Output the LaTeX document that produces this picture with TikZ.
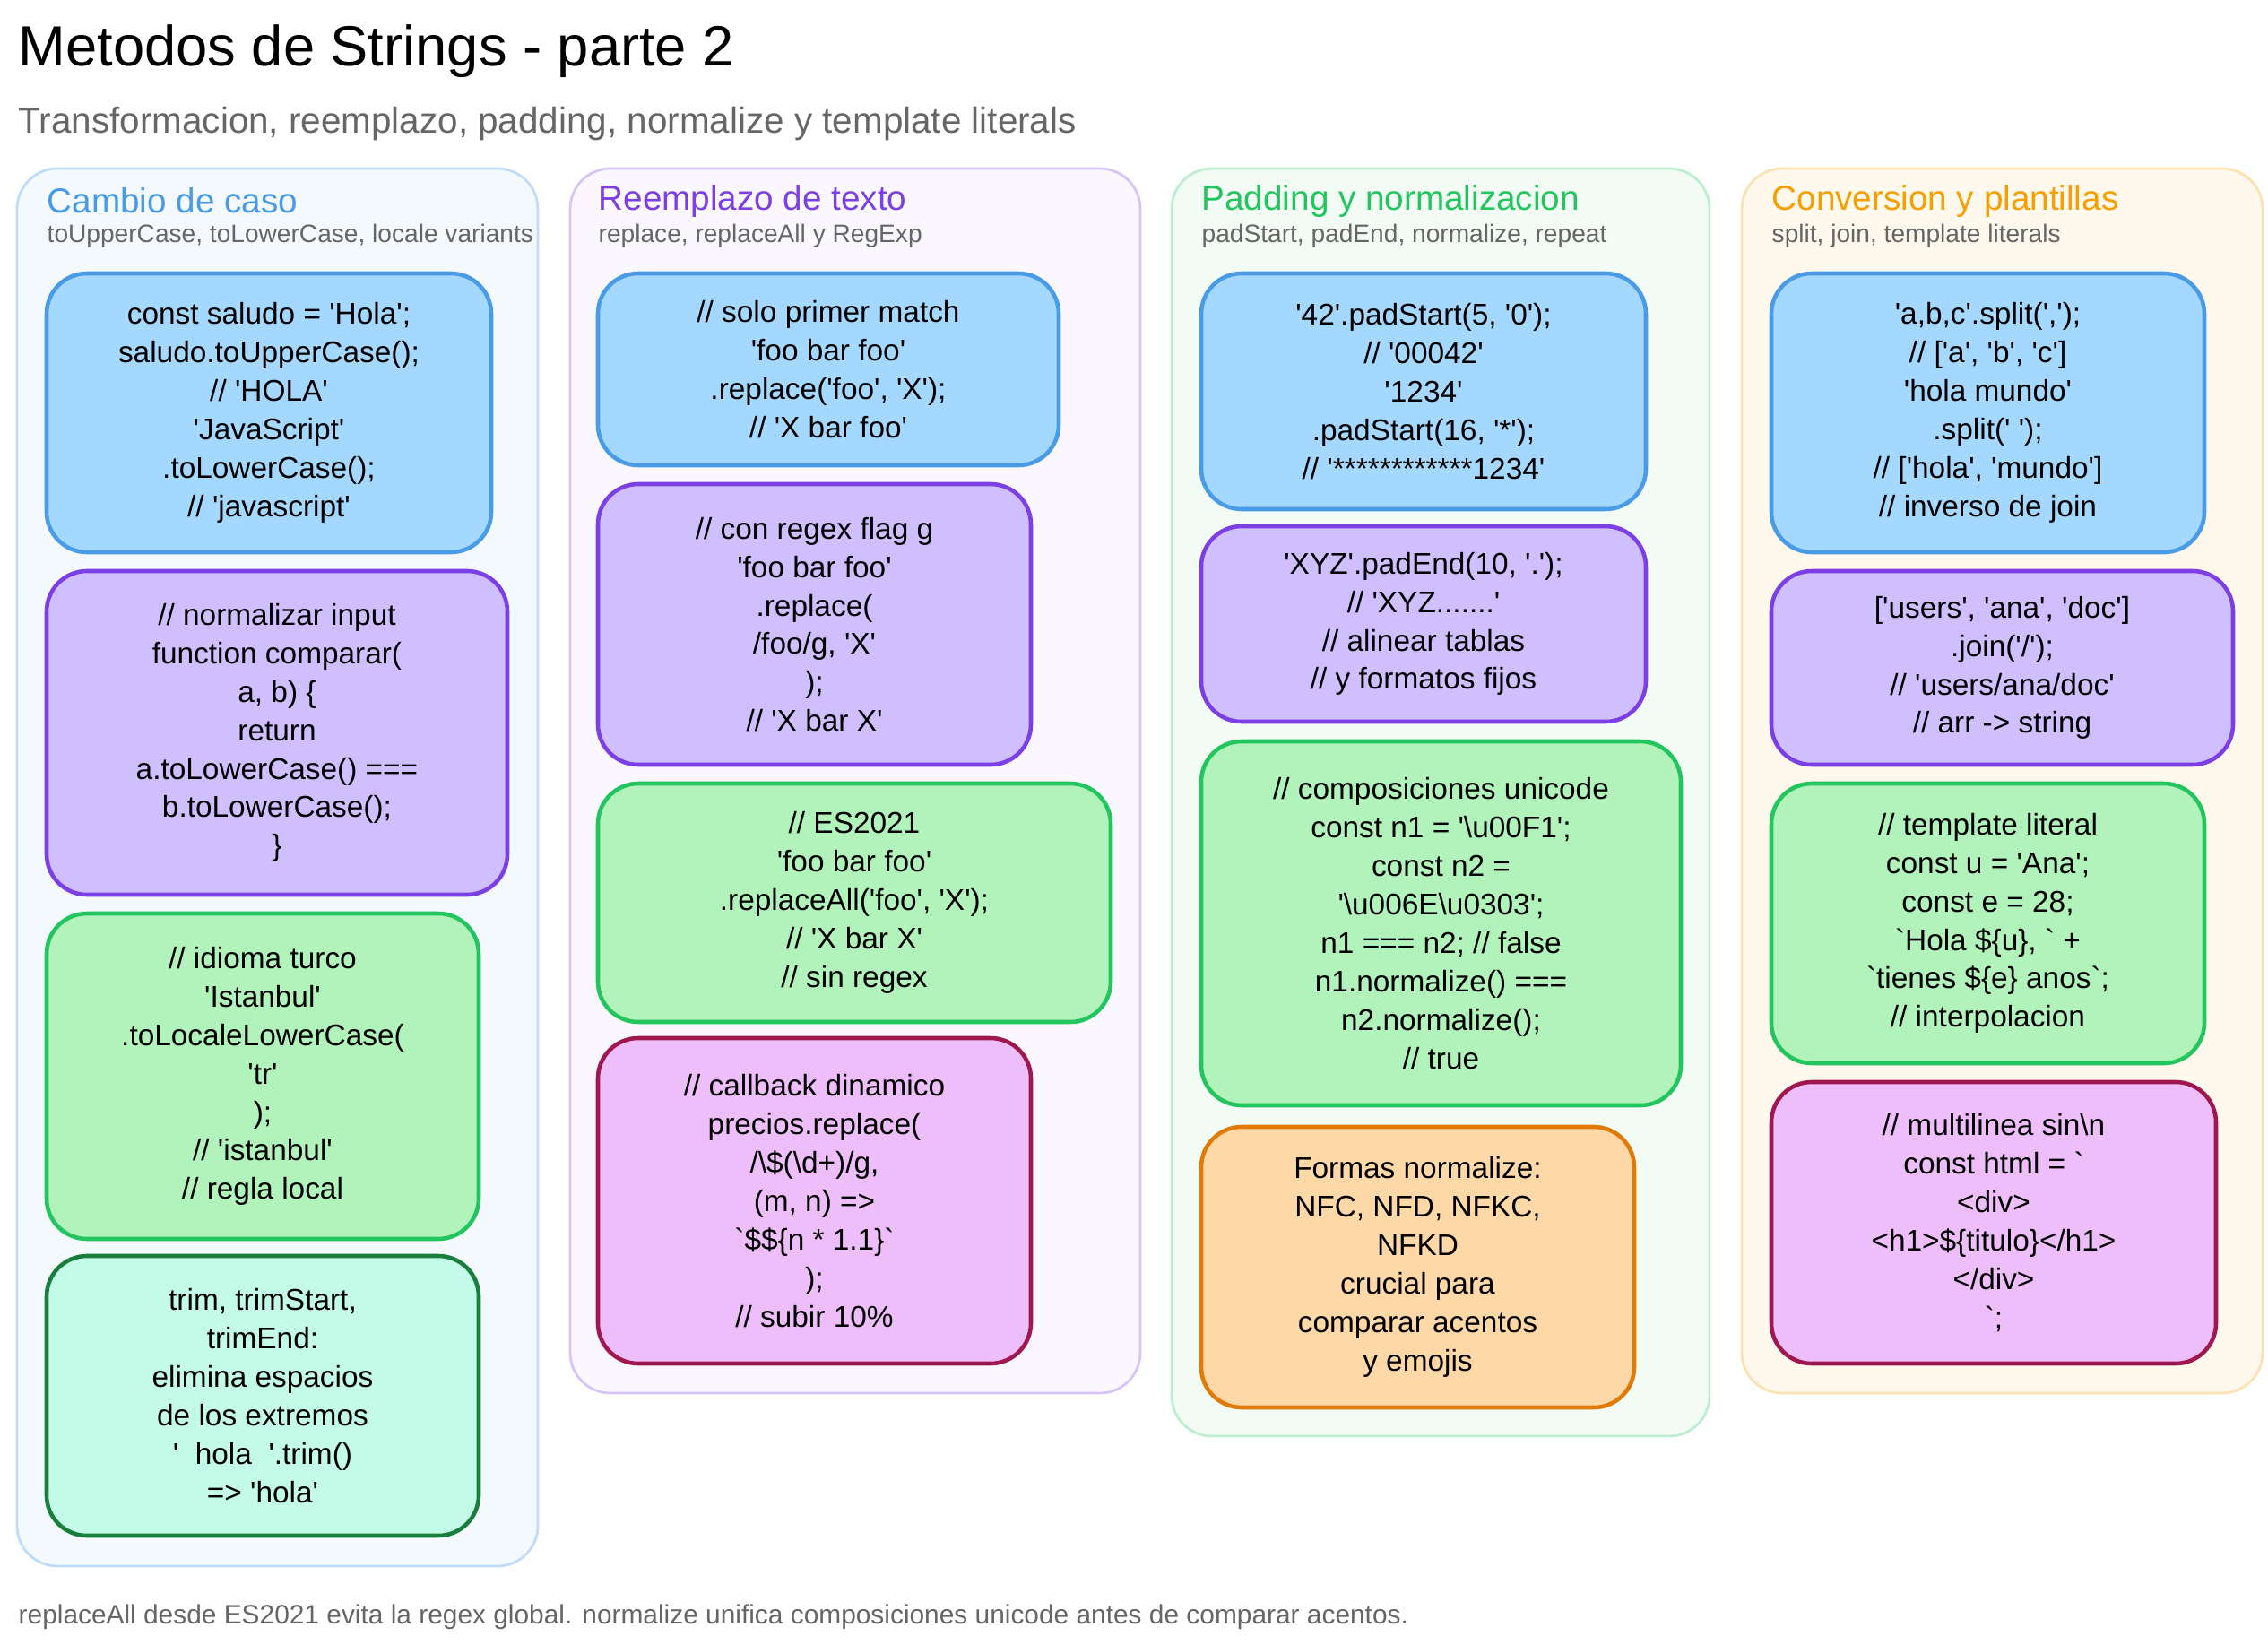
\documentclass[tikz,border=0pt]{standalone}
\usepackage{fontspec}
\setmainfont{Liberation Sans}
\newfontfamily\hand{Liberation Sans}
\usepackage{xcolor}
\usetikzlibrary{shapes,arrows}

\definecolor{bluefill}{HTML}{A5D8FF}
\definecolor{blueline}{HTML}{4A9BE6}
\definecolor{purfill}{HTML}{D0BFFF}
\definecolor{purline}{HTML}{7B3FE4}
\definecolor{grnfill}{HTML}{B2F2BB}
\definecolor{grnline}{HTML}{22C55E}
\definecolor{mintfill}{HTML}{C3FAE8}
\definecolor{mintline}{HTML}{1A7F3C}
\definecolor{pinkfill}{HTML}{EEBEFA}
\definecolor{pinkline}{HTML}{A0174F}
\definecolor{orafill}{HTML}{FFD8A8}
\definecolor{oraline}{HTML}{E07B0A}
\definecolor{hdrorange}{HTML}{F59F00}
\definecolor{txtgray}{HTML}{666666}

\begin{document}
\begin{tikzpicture}[x=1cm,y=1cm]
    \tikzstyle{column} = [draw, line width=0.8pt, rounded corners=0.45cm]
    \tikzstyle{card} = [rectangle, draw, line width=1.3pt, rounded corners=0.45cm,
        align=center, inner sep=0pt, font=\hand\fontsize{9.5}{12.2}\selectfont]
    \tikzstyle{hdr} = [anchor=west, inner sep=0pt, font=\fontsize{11}{13}\selectfont]
    \tikzstyle{sub} = [anchor=west, inner sep=0pt, text=txtgray, font=\fontsize{8}{10}\selectfont]

    \useasboundingbox (0,0) rectangle (25.30,-18.35);

    % title
    \node [anchor=west, inner sep=0pt, font=\fontsize{18}{21}\selectfont] (title) at (0.20,-0.57) {Metodos de Strings - parte 2};
    \node [anchor=west, inner sep=0pt, text=txtgray, font=\fontsize{11.5}{14}\selectfont] (subtitle) at (0.20,-1.38) {Transformacion, reemplazo, padding, normalize y template literals};

    % columns
    \draw [column, draw=blueline!35, fill=blueline!6] (0.19,-1.88) rectangle (6.00,-17.47);
    \draw [column, draw=purline!30, fill=purline!4] (6.36,-1.88) rectangle (12.72,-15.54);
    \draw [column, draw=grnline!30, fill=grnline!6] (13.07,-1.88) rectangle (19.07,-16.02);
    \draw [column, draw=hdrorange!30, fill=hdrorange!7] (19.43,-1.88) rectangle (25.24,-15.54);

    \node [hdr, text=blueline] (h1) at (0.52,-2.24) {Cambio de caso};
    \node [sub] (s1) at (0.52,-2.63) {toUpperCase, toLowerCase, locale variants};
    \node [hdr, text=purline] (h2) at (6.67,-2.24) {Reemplazo de texto};
    \node [sub] (s2) at (6.67,-2.63) {replace, replaceAll y RegExp};
    \node [hdr, text=grnline] (h3) at (13.40,-2.24) {Padding y normalizacion};
    \node [sub] (s3) at (13.40,-2.63) {padStart, padEnd, normalize, repeat};
    \node [hdr, text=hdrorange] (h4) at (19.76,-2.24) {Conversion y plantillas};
    \node [sub] (s4) at (19.76,-2.63) {split, join, template literals};

    % column 1
    \node [card, fill=bluefill, draw=blueline, minimum width=4.96cm, minimum height=3.11cm] (case1) at (3.00,-4.605)
        {const saludo = 'Hola';\\saludo.toUpperCase();\\// 'HOLA'\\'JavaScript'\\.toLowerCase();\\// 'javascript'};
    \node [card, fill=purfill, draw=purline, minimum width=5.14cm, minimum height=3.61cm] (case2) at (3.09,-8.175)
        {// normalizar input\\function comparar(\\a, b) \{\\return\\a.toLowerCase() ===\\b.toLowerCase();\\\}};
    \node [card, fill=grnfill, draw=grnline, minimum width=4.82cm, minimum height=3.63cm] (case3) at (2.93,-12.005)
        {// idioma turco\\'Istanbul'\\.toLocaleLowerCase(\\'tr'\\);\\// 'istanbul'\\// regla local};
    \node [card, fill=mintfill, draw=mintline, minimum width=4.82cm, minimum height=3.12cm] (case4) at (2.93,-15.57)
        {trim, trimStart,\\trimEnd:\\elimina espacios\\de los extremos\\'\ \ hola\ \ '.trim()\\=> 'hola'};

    % column 2
    \node [card, fill=bluefill, draw=blueline, minimum width=5.14cm, minimum height=2.14cm] (rep1) at (9.24,-4.12)
        {// solo primer match\\'foo bar foo'\\.replace('foo', 'X');\\// 'X bar foo'};
    \node [card, fill=purfill, draw=purline, minimum width=4.83cm, minimum height=3.13cm] (rep2) at (9.085,-6.965)
        {// con regex flag g\\'foo bar foo'\\.replace(\\/foo/g, 'X'\\);\\// 'X bar X'};
    \node [card, fill=grnfill, draw=grnline, minimum width=5.72cm, minimum height=2.66cm] (rep3) at (9.53,-10.07)
        {// ES2021\\'foo bar foo'\\.replaceAll('foo', 'X');\\// 'X bar X'\\// sin regex};
    \node [card, fill=pinkfill, draw=pinkline, minimum width=4.83cm, minimum height=3.63cm] (rep4) at (9.085,-13.395)
        {// callback dinamico\\precios.replace(\\/\textbackslash\$(\textbackslash d+)/g,\\(m, n) =>\\\textasciigrave\$\$\{n * 1.1\}\textasciigrave\\);\\// subir 10\%};

    % column 3
    \node [card, fill=bluefill, draw=blueline, minimum width=4.96cm, minimum height=2.63cm] (pad1) at (15.88,-4.365)
        {'42'.padStart(5, '0');\\// '00042'\\'1234'\\.padStart(16, '*');\\// '************1234'};
    \node [card, fill=purfill, draw=purline, minimum width=4.96cm, minimum height=2.18cm] (pad2) at (15.88,-6.96)
        {'XYZ'.padEnd(10, '.');\\// 'XYZ.......'\\// alinear tablas\\// y formatos fijos};
    \node [card, fill=grnfill, draw=grnline, minimum width=5.35cm, minimum height=4.06cm] (pad3) at (16.075,-10.30)
        {// composiciones unicode\\const n1 = '\textbackslash u00F1';\\const n2 =\\'\textbackslash u006E\textbackslash u0303';\\n1 === n2; // false\\n1.normalize() ===\\n2.normalize();\\// true};
    \node [card, fill=orafill, draw=oraline, minimum width=4.83cm, minimum height=3.13cm] (pad4) at (15.815,-14.135)
        {Formas normalize:\\NFC, NFD, NFKC,\\NFKD\\crucial para\\comparar acentos\\y emojis};

    % column 4
    \node [card, fill=bluefill, draw=blueline, minimum width=4.83cm, minimum height=3.11cm] (conv1) at (22.175,-4.605)
        {'a,b,c'.split(',');\\// ['a', 'b', 'c']\\'hola mundo'\\.split(' ');\\// ['hola', 'mundo']\\// inverso de join};
    \node [card, fill=purfill, draw=purline, minimum width=5.15cm, minimum height=2.16cm] (conv2) at (22.335,-7.45)
        {['users', 'ana', 'doc']\\.join('/');\\// 'users/ana/doc'\\// arr -> string};
    \node [card, fill=grnfill, draw=grnline, minimum width=4.83cm, minimum height=3.12cm] (conv3) at (22.175,-10.30)
        {// template literal\\const u = 'Ana';\\const e = 28;\\\textasciigrave Hola \$\{u\}, \textasciigrave\ +\\\textasciigrave tienes \$\{e\} anos\textasciigrave;\\// interpolacion};
    \node [card, fill=pinkfill, draw=pinkline, minimum width=4.96cm, minimum height=3.14cm] (conv4) at (22.24,-13.64)
        {// multilinea sin\textbackslash n\\const html = \textasciigrave\\<div>\\<h1>\$\{titulo\}</h1>\\</div>\\\textasciigrave;};

    % footer
    \node [anchor=west, inner sep=0pt, text=txtgray, font=\fontsize{8.5}{10}\selectfont] (footer) at (0.20,-18.04)
        {replaceAll desde ES2021 evita la regex global. normalize unifica composiciones unicode antes de comparar acentos.};
\end{tikzpicture}
\end{document}
